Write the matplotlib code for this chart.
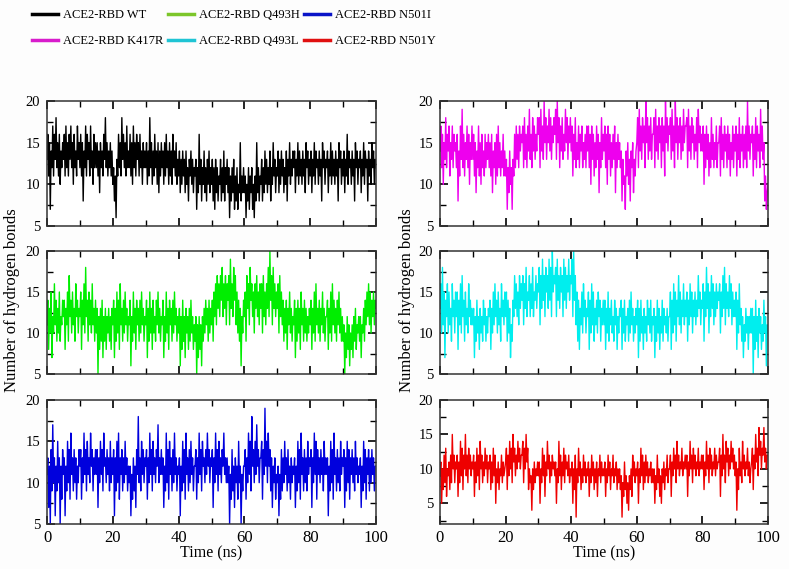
import numpy as np
import matplotlib
matplotlib.use("Agg")
import matplotlib.pyplot as plt
from matplotlib.lines import Line2D
from matplotlib.ticker import MultipleLocator

plt.rcParams['font.family'] = ['Liberation Serif', 'DejaVu Serif']

# Number of hydrogen bonds, sampled every 0.25 ns from 0 to 100 ns
wt = [13,16,11,15,7,14,12,17,11,16,13,18,12,15,11,16,10,14,12,15,
      13,16,11,17,12,15,11,16,13,17,12,15,10,16,12,14,11,17,13,15,
      12,16,11,15,8,14,12,17,11,16,13,15,11,17,12,14,10,16,12,15,
      12,15,11,14,9,15,12,14,11,16,13,18,12,15,11,14,12,15,11,14,
      10,12,8,11,6,13,11,16,12,15,11,18,13,16,12,15,11,17,12,14,
      12,16,11,15,10,17,12,15,11,16,13,15,11,16,12,14,10,15,12,14,
      12,15,10,14,11,18,12,15,10,14,11,16,12,14,10,15,9,14,11,15,
      12,14,10,15,11,16,12,14,10,15,11,14,10,16,12,14,11,15,10,13,
      11,14,9,13,10,14,11,13,9,14,10,12,8,13,11,14,10,13,9,12,
      11,13,7,12,9,16,10,13,8,12,10,14,9,12,8,13,10,14,9,12,
      10,13,8,12,7,13,9,12,8,11,10,13,8,12,9,14,8,12,10,13,
      9,12,6,11,8,12,9,13,7,11,8,12,7,10,9,15,8,11,9,12,
      9,11,6,10,8,12,7,11,9,12,7,10,6,11,8,15,9,12,8,11,
      10,13,8,12,9,14,10,13,9,12,10,14,8,12,10,15,11,13,9,12,
      11,14,9,13,10,14,11,13,9,12,10,14,8,13,11,15,10,13,11,14,
      12,14,9,13,11,15,10,14,11,13,10,14,11,13,9,15,12,14,10,13,
      11,14,9,13,11,15,10,14,12,13,10,14,11,13,8,15,12,14,10,13,
      12,14,9,13,11,15,10,14,11,13,10,14,11,13,8,15,12,14,10,13,
      11,14,9,13,11,16,10,14,12,13,10,14,11,13,8,15,12,14,10,13,
      12,14,9,13,11,15,10,14,12,13,8,14,11,13,10,15,12,14,10,13, 12]

k417r = [14,17,12,16,10,15,13,18,12,16,14,17,11,15,13,17,12,16,14,15,
         12,16,8,14,11,17,13,19,12,16,11,15,13,17,12,16,10,15,13,17,
         13,16,11,15,9,14,12,17,11,15,10,16,12,14,11,16,12,15,13,16,
         12,15,11,16,9,14,12,15,10,16,11,17,12,15,11,14,12,16,11,14,
         11,13,7,12,9,14,10,12,7,13,11,16,12,17,13,16,12,17,14,16,
         15,17,12,18,13,16,12,17,14,19,13,16,12,18,14,17,13,16,14,18,
         16,18,12,19,14,17,13,20,15,18,13,17,15,19,14,18,13,17,15,18,
         16,19,13,20,15,18,12,17,14,18,13,16,14,19,15,18,13,17,15,18,
         14,17,11,16,13,18,12,15,13,17,12,16,14,17,12,15,13,16,12,17,
         14,17,12,16,10,17,13,16,11,15,12,17,13,16,9,15,12,18,13,16,
         14,17,12,16,10,17,13,16,11,15,12,16,13,17,9,15,12,16,13,15,
         12,14,8,13,10,11,7,14,11,15,10,13,8,14,12,15,9,13,11,14,
         15,18,12,19,14,17,13,18,15,17,12,20,15,18,13,17,14,18,13,16,
         16,18,12,19,14,17,13,18,15,17,12,18,14,17,11,20,15,18,14,17,
         16,18,13,19,14,17,12,20,15,18,13,17,15,18,13,17,14,19,15,17,
         17,18,12,19,14,17,13,18,15,17,13,16,14,18,12,19,15,17,14,16,
         14,17,10,16,12,17,13,16,11,15,12,18,13,16,12,15,13,17,12,15,
         15,17,11,18,13,16,12,17,14,16,12,17,13,16,11,15,13,17,12,16,
         14,17,11,16,13,18,12,16,14,17,12,16,13,17,12,20,14,17,13,16,
         15,17,11,16,13,18,12,17,14,16,12,19,14,17,13,15,8,11,7,9, 10]

q493h = [11,14,8,13,10,15,7,12,10,16,11,14,9,13,10,15,9,12,11,14,
         12,14,8,13,11,15,9,17,12,14,10,15,11,13,9,16,12,14,10,13,
         12,15,8,14,11,16,10,18,12,14,9,15,11,14,10,16,11,13,9,14,
         10,13,5,12,8,13,9,14,7,12,9,13,8,12,10,13,9,12,8,13,
         11,14,7,13,9,15,10,14,8,16,11,13,9,14,10,15,11,13,9,12,
         11,14,6,12,9,15,10,13,8,14,11,13,9,14,10,15,11,13,9,12,
         11,14,7,13,9,15,10,13,8,14,10,12,9,14,11,15,10,13,9,12,
         11,14,7,12,9,15,10,13,8,14,11,13,9,14,10,15,11,13,9,12,
         10,13,6,12,8,14,9,12,7,13,10,12,8,13,9,14,10,12,8,11,
         9,12,5,11,7,12,8,11,6,12,9,13,10,14,11,13,9,14,10,13,
         11,14,9,15,12,16,11,17,13,16,12,17,14,18,12,16,13,17,11,16,
         14,17,11,19,13,16,12,18,14,17,11,15,10,14,9,13,6,12,10,14,
         12,15,9,17,13,16,11,18,14,16,12,15,10,16,13,17,12,15,11,16,
         13,16,10,17,12,15,11,16,13,18,12,20,14,17,11,18,13,16,12,15,
         13,16,10,17,12,15,11,14,9,13,10,14,8,13,11,15,10,13,9,12,
         11,14,7,13,9,14,10,13,8,15,11,13,9,14,10,13,9,12,10,13,
         11,14,8,13,10,15,9,16,11,13,10,14,9,13,11,15,10,13,9,12,
         12,14,8,13,10,15,9,16,11,14,10,13,9,14,11,15,10,13,9,12,
         9,11,5,10,7,12,8,11,6,10,8,11,7,12,9,13,8,11,10,12,
         9,12,7,11,10,13,9,14,11,15,12,16,11,15,10,14,12,15,11,14, 13]

q493l = [13,16,10,18,11,15,7,14,12,16,10,15,11,13,9,16,12,14,10,15,
         12,15,8,14,11,16,10,17,12,14,9,15,11,13,10,16,12,14,11,13,
         11,13,7,12,9,14,10,12,8,13,10,12,9,14,11,13,9,12,10,13,
         12,14,8,13,10,15,11,16,12,14,10,15,11,13,9,16,12,14,11,15,
         12,15,9,14,10,13,7,11,9,14,12,17,13,16,12,15,11,17,13,16,
         14,17,11,16,13,18,12,15,14,17,12,16,13,18,12,15,14,17,13,16,
         15,18,11,17,13,19,14,17,12,18,15,17,13,19,14,18,12,20,15,17,
         16,18,12,19,14,17,13,18,15,17,12,19,14,18,13,17,15,19,14,17,
         16,19,12,20,14,17,11,15,9,14,8,13,11,15,10,16,12,14,10,13,
         12,15,8,14,10,16,11,15,9,13,11,14,10,15,12,14,9,13,11,14,
         11,14,8,13,10,15,9,13,11,14,10,12,9,14,11,13,8,12,10,13,
         12,14,8,13,10,14,9,12,11,13,9,14,10,15,11,13,9,12,10,13,
         11,14,7,13,9,14,10,12,8,13,10,12,9,14,11,13,10,14,9,12,
         11,13,7,12,9,14,10,13,8,12,10,14,9,13,11,12,10,13,9,12,
         12,15,8,14,10,16,11,15,9,14,12,17,11,15,10,14,12,16,11,14,
         12,15,9,14,11,16,12,15,10,14,12,15,11,14,12,17,13,15,11,14,
         13,16,9,15,12,18,13,16,10,15,12,17,13,16,11,15,12,16,13,15,
         14,16,10,15,12,17,13,18,11,16,13,15,12,17,13,16,11,15,12,14,
         12,15,8,14,10,16,11,13,9,12,7,11,9,13,10,12,8,12,10,13,
         10,13,5,12,8,14,9,12,7,13,10,12,8,11,9,14,10,12,6,11, 10]

n501i = [11,13,7,12,5,14,9,17,10,13,6,12,9,15,10,13,5,12,8,14,
         11,13,6,12,9,15,10,14,8,16,11,13,9,14,10,13,8,12,10,14,
         12,14,8,13,10,16,11,14,9,15,11,13,10,16,12,14,9,13,11,14,
         11,14,7,13,10,15,11,14,9,16,12,13,10,14,11,13,9,15,10,13,
         11,14,6,13,9,15,10,16,8,13,11,14,9,13,10,15,11,13,9,12,
         10,12,6,11,8,13,9,12,7,14,11,18,10,13,9,15,11,14,10,13,
         12,14,8,13,10,16,11,14,9,15,11,13,10,14,12,17,10,13,11,14,
         11,13,7,12,9,16,10,14,8,15,11,13,9,14,10,16,11,13,9,12,
         11,13,6,12,9,15,10,14,8,16,11,13,9,14,10,15,11,13,9,12,
         12,14,8,13,10,16,11,14,9,15,12,13,10,14,11,16,12,14,10,13,
         12,14,7,13,10,16,11,14,9,15,11,13,10,14,12,16,11,13,10,13,
         10,12,5,11,8,14,9,12,7,13,10,12,8,15,10,12,5,11,9,12,
         12,14,8,13,10,16,11,15,9,18,12,14,10,15,11,17,12,14,10,13,
         13,15,8,14,11,19,12,15,10,16,12,14,9,13,7,12,10,13,8,11,
         10,12,6,11,8,14,9,13,10,15,11,13,9,14,10,12,8,13,10,12,
         11,13,7,12,9,15,10,14,8,16,11,13,9,14,10,13,9,15,11,13,
         12,14,7,13,10,16,11,15,8,14,11,13,10,14,11,13,9,15,11,13,
         11,13,6,12,9,15,10,14,8,16,11,13,9,14,10,13,9,15,11,13,
         12,14,7,13,9,15,10,14,8,13,11,14,10,13,9,15,11,13,10,12,
         11,13,7,12,9,15,10,14,8,13,11,14,9,13,10,14,11,13,9,12, 12]

n501y = [9,11,5,10,7,12,8,13,6,10,9,11,7,12,8,15,10,12,8,11,
         10,12,6,11,8,14,9,13,7,12,10,15,9,12,8,13,10,12,9,11,
         10,12,6,11,8,13,9,12,7,14,10,12,8,11,9,13,10,12,8,11,
         10,12,7,11,8,13,9,12,5,10,8,11,7,10,9,12,8,11,9,10,
         11,13,7,12,9,14,10,13,8,15,11,13,9,12,10,14,11,13,10,12,
         12,14,8,13,10,15,11,13,7,10,8,9,4,10,7,11,8,10,9,11,
         9,11,5,10,8,13,9,12,6,11,9,14,10,12,8,11,9,12,10,11,
         9,11,5,10,8,14,9,12,7,11,9,13,8,12,10,11,9,12,8,10,
         9,11,5,10,7,12,3,10,8,13,9,11,7,10,8,12,9,11,8,10,
         9,11,6,10,8,12,9,11,7,10,8,11,6,10,9,12,8,11,9,10,
         9,11,6,10,8,12,9,11,7,10,9,12,8,10,9,11,7,10,8,10,
         7,9,3,8,6,11,7,9,5,8,4,9,7,10,6,12,9,11,8,10,
         9,11,5,10,8,13,9,12,7,11,8,12,9,11,8,10,9,11,8,10,
         8,10,5,9,7,12,8,10,6,9,5,10,8,11,7,10,9,12,8,10,
         10,12,6,11,9,13,10,12,8,14,10,12,9,11,10,13,9,11,10,12,
         10,12,6,11,9,14,10,12,8,13,10,12,9,11,10,13,9,11,10,12,
         10,12,7,11,9,14,10,12,8,13,10,12,9,11,10,13,9,12,10,11,
         11,13,6,12,9,15,10,12,8,14,11,13,9,12,10,14,11,13,10,12,
         9,11,4,10,7,13,9,11,8,14,10,12,9,11,10,13,9,11,8,10,
         11,13,7,12,10,15,11,13,9,16,12,14,10,13,12,16,11,13,10,12, 12]

labels = ["ACE2-RBD WT", "ACE2-RBD K417R", "ACE2-RBD Q493H",
          "ACE2-RBD Q493L", "ACE2-RBD N501I", "ACE2-RBD N501Y"]
series = [wt, k417r, q493h, q493l, n501i, n501y]
plot_colors = ["#000000", "#ee00ee", "#00ee00", "#00eeee", "#0000dd", "#ee0000"]
legend_colors = ["#000000", "#d81ccc", "#7cc62a", "#1fc4d4", "#0a14c8", "#e01010"]
ylims = [(5, 20), (5, 20), (5, 20), (5, 20), (5, 20), (2, 20)]

fig = plt.figure(figsize=(7.89, 5.69), dpi=100)
fig.patch.set_facecolor("#fdfdfd")

W = 789.0
H = 569.0
cols = [(47, 376), (440, 768)]
rows = [(101, 226), (251, 374), (400, 524)]

for i, (vals, col, yl) in enumerate(zip(series, plot_colors, ylims)):
    r = i // 2
    c = i % 2
    x0, x1 = cols[c]
    y0, y1 = rows[r]
    ax = fig.add_axes([x0 / W, 1 - y1 / H, (x1 - x0) / W, (y1 - y0) / H])
    t = np.linspace(0, 100, len(vals))
    ax.plot(t, vals, color=col, lw=1.0)
    ax.set_xlim(0, 100)
    ax.set_ylim(*yl)
    ax.set_yticks([5, 10, 15, 20])
    ax.xaxis.set_major_locator(MultipleLocator(20))
    ax.xaxis.set_minor_locator(MultipleLocator(10))
    ax.yaxis.set_minor_locator(MultipleLocator(2.5))
    ax.tick_params(which="both", direction="in", top=True, right=True,
                   labelsize=10.5, pad=5)
    ax.tick_params(which="major", length=6, width=1.2)
    ax.tick_params(which="minor", length=4, width=1)
    for s in ax.spines.values():
        s.set_linewidth(1.1)
        s.set_color("#333333")
    if r < 2:
        ax.tick_params(labelbottom=False)
    else:
        ax.set_xlabel("Time (ns)", fontsize=11.5, labelpad=0)
        ax.tick_params(axis="x", labelsize=12, pad=4)

fig.text(12 / W, 1 - 300 / H, "Number of hydrogen bonds", rotation=90,
         ha="center", va="center", fontsize=12)
fig.text(407 / W, 1 - 300 / H, "Number of hydrogen bonds", rotation=90,
         ha="center", va="center", fontsize=12)

handles = [Line2D([], [], color=c, lw=2.5) for c in legend_colors]
fig.legend(handles, labels, ncol=3, loc="upper left",
           bbox_to_anchor=(32 / W, 1 - 9 / H), frameon=False,
           borderpad=0, borderaxespad=0,
           fontsize=9, handlelength=2.08, columnspacing=0.33,
           handletextpad=0.42, labelspacing=1.15)

fig.savefig("out.png", dpi=100, facecolor=fig.get_facecolor())
